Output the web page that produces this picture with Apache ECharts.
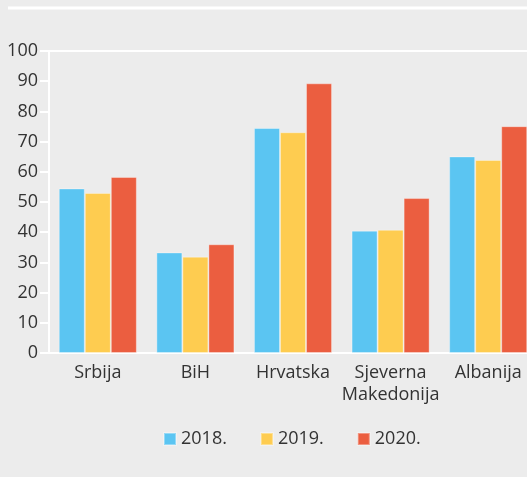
<!DOCTYPE html>
<html>
<head>
<meta charset="utf-8">
<script src="https://cdn.jsdelivr.net/npm/echarts@6/dist/echarts.min.js"></script>
<style>
html,body{margin:0;padding:0;background:#ececec;}
#chart{width:527px;height:477px;}
</style>
</head>
<body>
<div id="chart"></div>
<script>
var categories = ['Srbija', 'BiH', 'Hrvatska', 'Sjeverna\nMakedonija', 'Albanija'];
var years = ['2018.', '2019.', '2020.'];
var data2018 = [54.5, 33.3, 74.5, 40.5, 65.1];
var data2019 = [53.0, 31.9, 73.1, 40.8, 63.9];
var data2020 = [58.3, 36.0, 89.3, 51.3, 75.1];
var colors = ['#5bc5f2', '#fecc50', '#eb5e40'];

var chart = echarts.init(document.getElementById('chart'));
var font = '"Open Sans", sans-serif';

function barSeries(name, values, color) {
    return {
        name: name,
        type: 'bar',
        data: values,
        barGap: '0%',
        barCategoryGap: '20%',
        itemStyle: {
            color: color,
            borderColor: 'rgba(255,255,255,0.35)',
            borderWidth: 1
        }
    };
}

var option = {
    backgroundColor: '#ececec',
    textStyle: { fontFamily: font },
    animation: false,
    grid: { left: 49, width: 488, top: 51, height: 302, containLabel: false, outerBoundsMode: 'none' },
    graphic: [{
        type: 'line',
        shape: { x1: 8, y1: 8, x2: 527, y2: 8 },
        style: { stroke: '#ffffff', lineWidth: 3 }
    }],
    legend: {
        data: years,
        left: 158,
        top: 425,
        itemWidth: 12,
        itemHeight: 12,
        itemGap: 33,
        icon: 'rect',
        textStyle: { fontFamily: font, fontSize: 18, color: '#333' }
    },
    xAxis: [{
        type: 'category',
        data: categories,
        axisLine: { lineStyle: { color: '#ffffff', width: 2 } },
        axisTick: { show: false },
        axisLabel: { interval: 0, fontFamily: font, fontSize: 18, color: '#333', margin: 9, lineHeight: 22 }
    }, {
        type: 'category',
        position: 'top',
        data: categories,
        axisLine: { lineStyle: { color: '#ffffff', width: 2 } },
        axisTick: { show: false },
        axisLabel: { show: false }
    }],
    yAxis: {
        type: 'value',
        min: 0,
        max: 100,
        interval: 10,
        axisLine: { show: true, lineStyle: { color: '#ffffff', width: 2 } },
        axisTick: { show: true, length: 9, lineStyle: { color: '#ffffff', width: 2 } },
        splitLine: { show: false },
        axisLabel: { fontFamily: font, fontSize: 18, color: '#333', margin: 11 }
    },
    series: [
        barSeries(years[0], data2018, colors[0]),
        barSeries(years[1], data2019, colors[1]),
        barSeries(years[2], data2020, colors[2])
    ]
};
chart.setOption(option);
</script>
</body>
</html>
